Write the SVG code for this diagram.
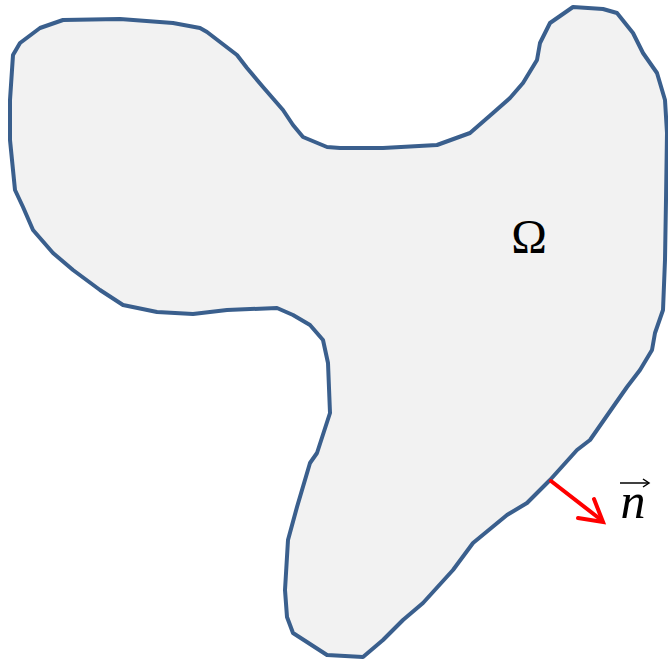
<svg xmlns="http://www.w3.org/2000/svg" width="668" height="666" viewBox="0 0 668 666">
<style>
.outline{fill:#f2f2f2;stroke:#3a5f8d;stroke-width:4;stroke-linejoin:round}
.lbl{font-family:"Liberation Serif","DejaVu Serif",serif;fill:#000}
.vec{stroke:#ff0000;stroke-width:4;fill:none;stroke-linecap:round;stroke-linejoin:miter}
</style>
<rect width="668" height="666" fill="#ffffff"/>
<g id="domain">
<polygon class="outline" points="63,20 120,19 173,23 200,28 207,32 237,55 247,68 263,87 283,110 293,125 303,137 327,147 340,148 383,148 437,145 470,133 493,113 510,98 523,83 537,60 540,43 550,23 573,7 603,9 617,13 633,33 643,53 657,73 665,100 667,133 666,200 665,260 663,310 655,333 652,350 640,370 627,387 613,407 590,440 577,450 550,480 527,503 507,515 473,543 453,570 423,603 403,620 383,640 363,657 327,655 293,633 287,617 285,590 288,540 297,507 310,463 317,453 330,413 328,363 323,340 310,325 293,315 277,308 227,310 193,314 157,312 123,305 100,290 73,270 53,253 33,230 23,207 15,190 10,140 10,100 13,55 20,43 40,28"/>
<text class="lbl" x="529" y="253" font-size="48" text-anchor="middle">Ω</text>
</g>
<g id="normal">
<line class="vec" x1="551" y1="481" x2="600" y2="519"/>
<polyline class="vec" points="578,518 603,522 594,499"/>
<text class="lbl" x="633" y="518" font-size="50" font-style="italic" text-anchor="middle">n</text>
<line x1="620" y1="483" x2="648" y2="483" stroke="#000" stroke-width="1.5"/>
<polyline points="643,479 649,483 643,487" fill="none" stroke="#000" stroke-width="1.5"/>
</g>
</svg>
